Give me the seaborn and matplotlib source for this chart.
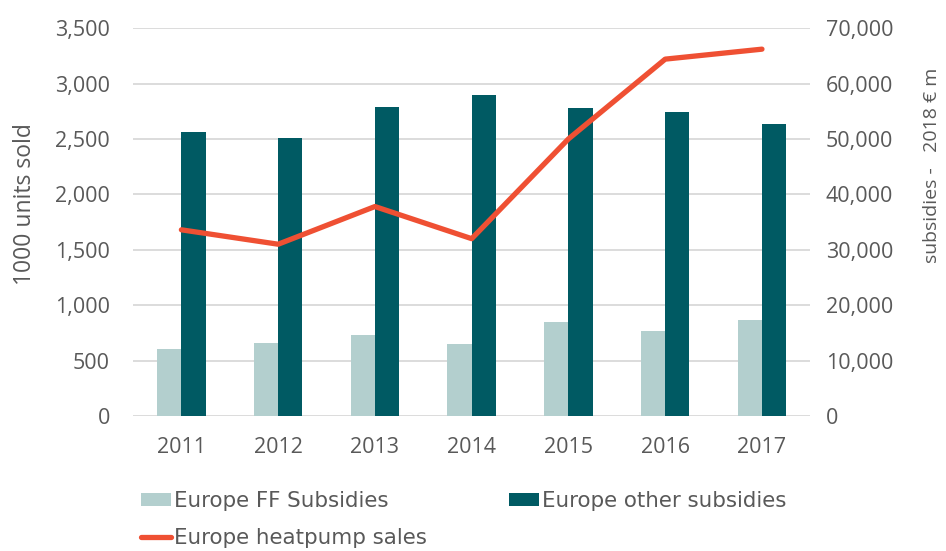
import numpy as np
import pandas as pd
import matplotlib
matplotlib.use("Agg")
import matplotlib.pyplot as plt
from matplotlib.patches import Patch
from matplotlib.lines import Line2D
from matplotlib.ticker import FuncFormatter
import seaborn as sns

# Data
years = ["2011", "2012", "2013", "2014", "2015", "2016", "2017"]
ff_subsidies = [12100, 13200, 14600, 13000, 17000, 15300, 17400]        # 2018 € m
other_subsidies = [51300, 50200, 55700, 58000, 55600, 54900, 52700]     # 2018 € m
heatpump_sales = [1680, 1550, 1890, 1600, 2500, 3220, 3310]             # 1000 units

series_names = ["Europe FF Subsidies", "Europe other subsidies"]
line_name = "Europe heatpump sales"

C_FF = "#B3CFCE"
C_OTHER = "#005A63"
C_LINE = "#EF5033"
C_TEXT = "#595959"
C_GRID = "#D9D9D9"

sns.set_theme(style="white")
plt.rcParams["font.family"] = ["Open Sans", "DejaVu Sans"]
LEGEND_FONT = ["DejaVu Sans"]

df = pd.DataFrame({
    "year": years * 2,
    "value": ff_subsidies + other_subsidies,
    "series": [series_names[0]] * len(years) + [series_names[1]] * len(years),
})

thousands = FuncFormatter(lambda v, p: f"{v:,.0f}")

fig = plt.figure(figsize=(9.46, 5.51), dpi=100)
ax = fig.add_axes([0.1406, 0.245, 0.716, 0.704])

# Subsidy bars on the primary axes (scale shown on the right)
sns.barplot(data=df, x="year", y="value", hue="series",
            palette=[C_FF, C_OTHER], saturation=1, width=0.5,
            linewidth=0, ax=ax, legend=False)
ax.set_ylim(0, 70000)
ax.set_xlim(-0.5, len(years) - 0.5)
ax.set_yticks(np.arange(0, 70001, 10000))
ax.yaxis.set_major_formatter(thousands)
ax.set_xlabel("")
ax.grid(axis="y", color=C_GRID, linewidth=1.3)
ax.grid(axis="x", visible=False)
ax.set_axisbelow(True)

# Heat pump sales line on the twin axes (scale shown on the left)
ax2 = ax.twinx()
sns.lineplot(x=np.arange(len(years)), y=heatpump_sales, ax=ax2,
             color=C_LINE, linewidth=3.8, solid_capstyle="round")
ax2.set_ylim(0, 3500)
ax2.set_yticks(np.arange(0, 3501, 500))
ax2.yaxis.set_major_formatter(thousands)

# swap sides: sales scale on the left, subsidies scale on the right
ax.yaxis.tick_right()
ax.yaxis.set_label_position("right")
ax2.yaxis.tick_left()
ax2.yaxis.set_label_position("left")

ax.set_ylabel("subsidies -   2018 € m", fontsize=14, color=C_TEXT)
ax.yaxis.set_label_coords(1.166, 0.647)
ax2.set_ylabel("1000 units sold", fontsize=16.5, color=C_TEXT)
ax2.yaxis.set_label_coords(-0.142, 0.546)

for a in (ax, ax2):
    for s in a.spines.values():
        s.set_visible(False)
    a.tick_params(axis="both", length=0, labelsize=15.5, labelcolor=C_TEXT)
ax.tick_params(axis="y", pad=11)
ax2.tick_params(axis="y", pad=16.5)
ax.tick_params(axis="x", pad=15)

handles = [
    Patch(facecolor=C_FF, edgecolor="none", label=series_names[0]),
    Line2D([0], [0], color=C_LINE, linewidth=3.8, solid_capstyle="round", label=line_name),
    Patch(facecolor=C_OTHER, edgecolor="none", label=series_names[1]),
]
fig.legend(handles=handles, loc="upper left", bbox_to_anchor=(0.149, 0.109),
           ncol=2, frameon=False, prop={"family": LEGEND_FONT, "size": 15.4},
           labelcolor=C_TEXT,
           handlelength=1.4, handleheight=0.56, handletextpad=0.15,
           columnspacing=3.85, labelspacing=0.8, borderpad=0, borderaxespad=0)

fig.savefig("out.png", dpi=100)
